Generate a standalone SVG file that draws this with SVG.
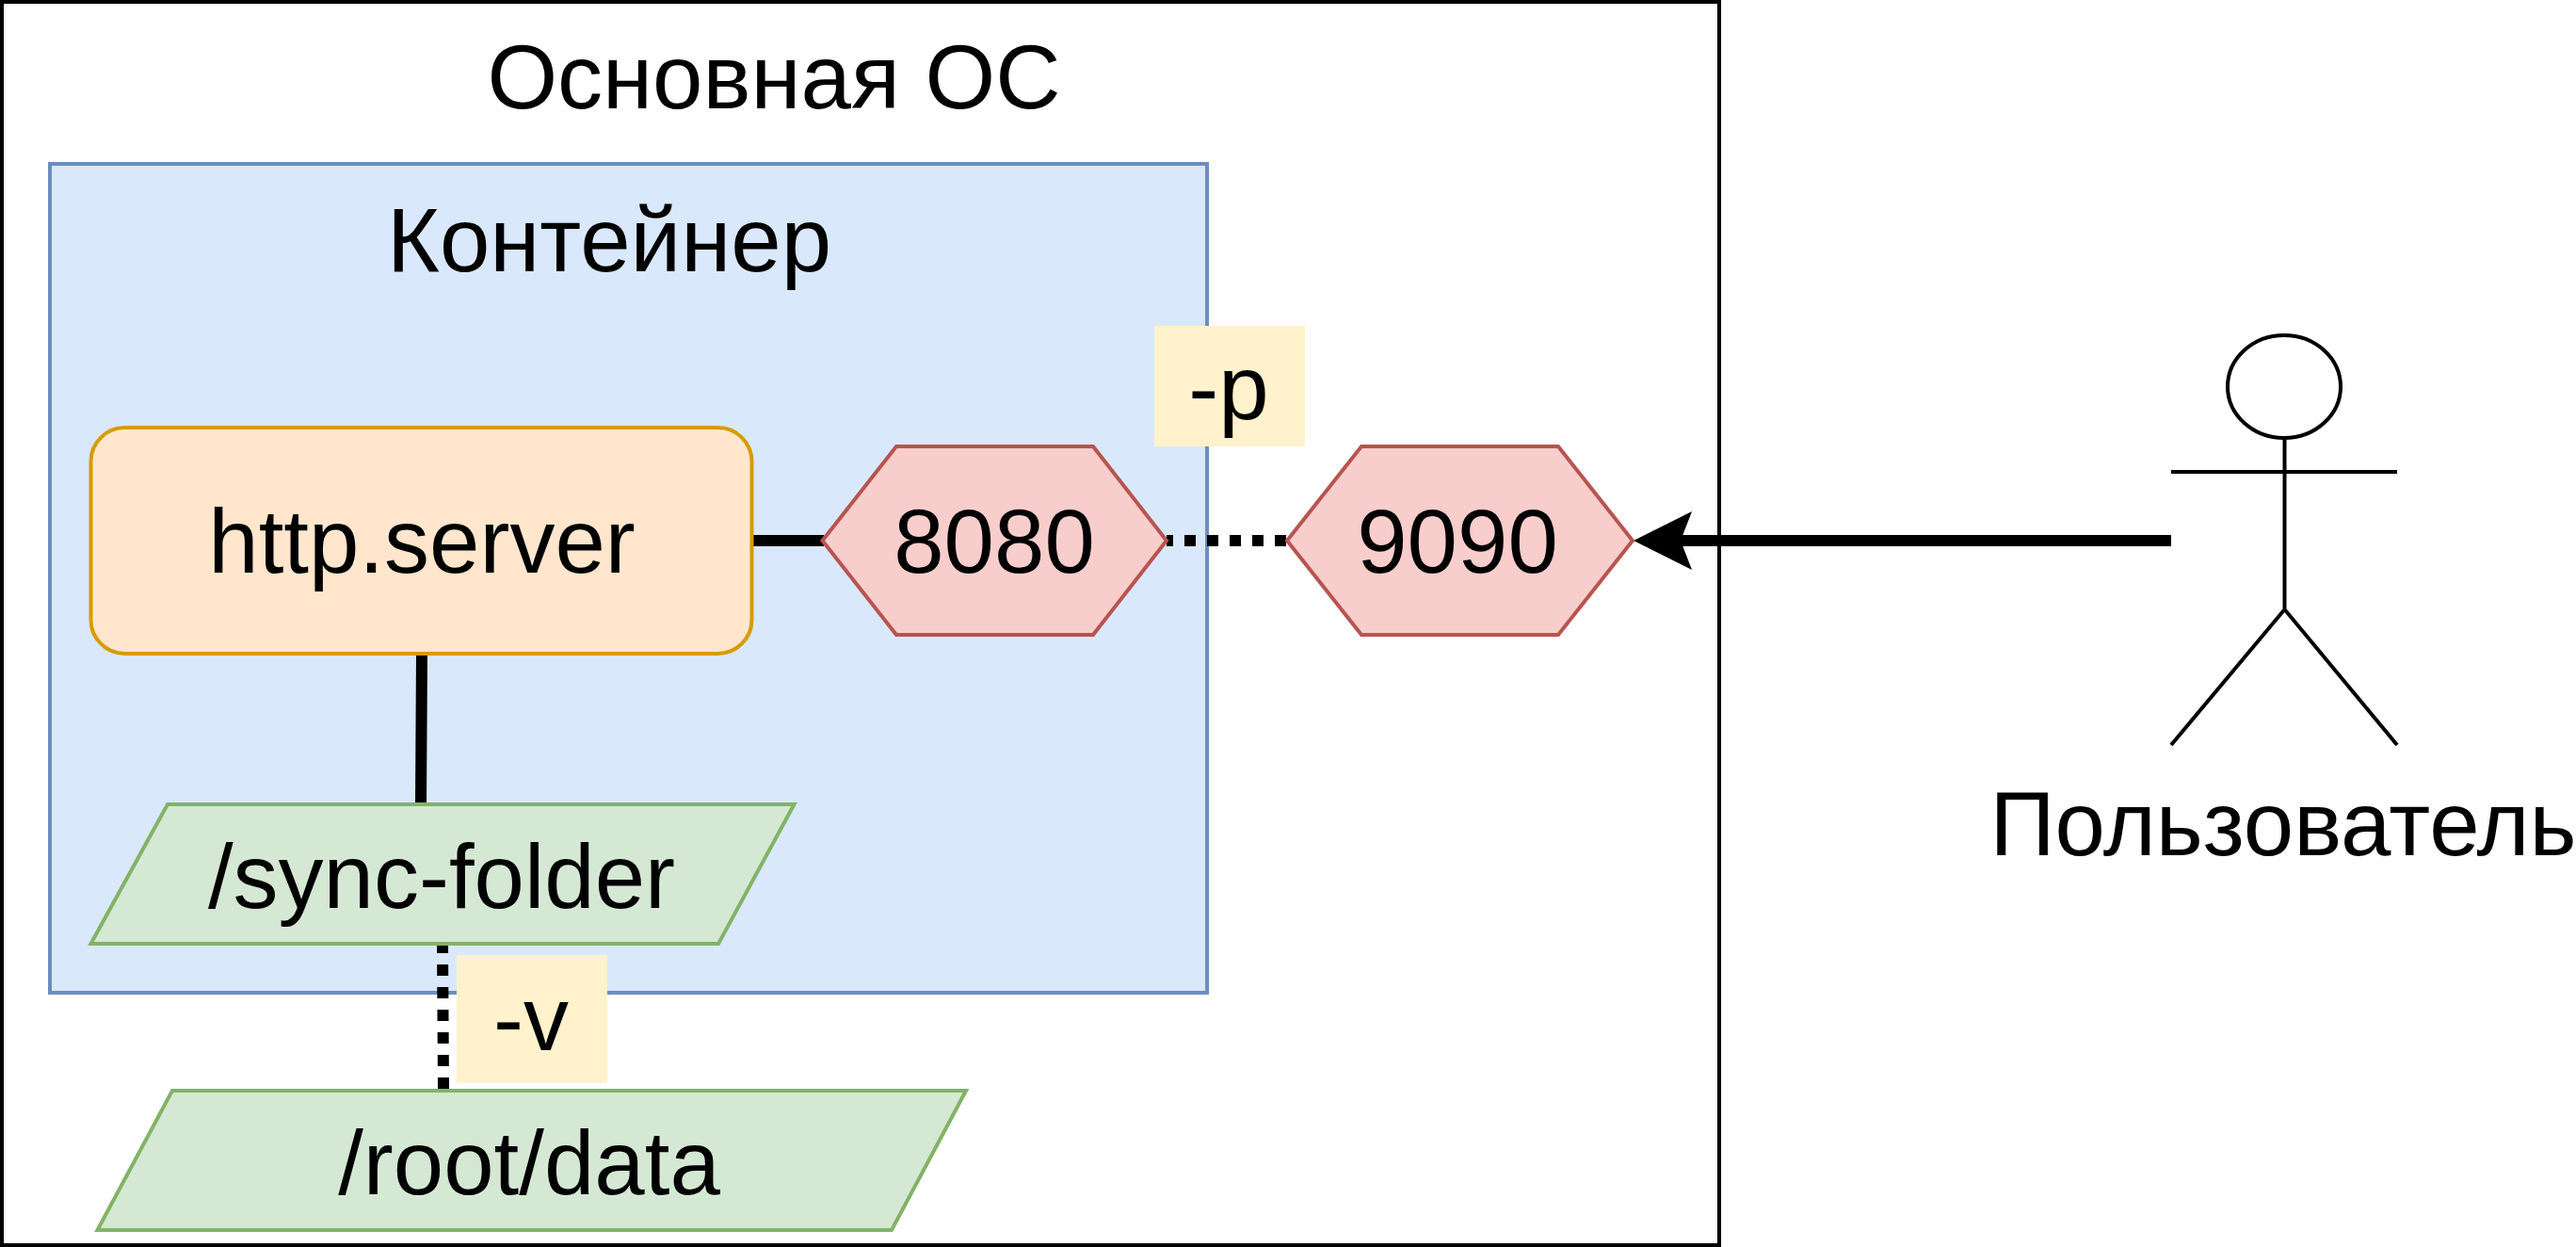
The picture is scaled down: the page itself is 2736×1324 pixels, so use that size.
<svg xmlns="http://www.w3.org/2000/svg" width="2736" height="1324" viewBox="0 0 2736 1324">
<style>
text{font-family:"Liberation Sans",Arial,sans-serif;font-size:96px;fill:#000;text-anchor:middle}
.r{fill:#f8cecc;stroke:#b85450;stroke-width:4}
.g{fill:#d5e8d4;stroke:#82b366;stroke-width:4}
.y{fill:#fff2cc;stroke:none}
.a{fill:none;stroke:#000;stroke-width:4}
.c{fill:none;stroke:#000;stroke-width:12}
.d{stroke-dasharray:12 12}
</style>
<rect width="2736" height="1324" fill="#fff"/>
<g id="host"><rect x="2" y="2" width="1824" height="1320" fill="#fff" stroke="#000" stroke-width="4"/><text x="822" y="115">Основная ОС</text></g>
<g id="container"><rect x="53" y="174" width="1229" height="880" fill="#dae8fc" stroke="#6c8ebf" stroke-width="4"/><text x="647" y="288">Контейнер</text></g>
<g id="label-p"><rect class="y" x="1226" y="346" width="160" height="128"/><text x="1305" y="445">-p</text></g>
<g id="label-v"><rect class="y" x="485" y="1014" width="160" height="136"/><text x="564" y="1115">-v</text></g>
<g id="connectors">
<path class="c" d="M798 574H875"/>
<path class="c" d="M448 694L447 854"/>
<path class="c d" d="M1366 574H1239"/>
<path class="c d" d="M471 1156L470 1002"/>
<path class="c" d="M2306 574H1780"/>
<path d="M1735 574L1797 543L1785 574L1797 605Z" fill="#000"/>
</g>
<g id="server"><rect x="96.5" y="454" width="702" height="240" rx="36" ry="36" fill="#ffe6cc" stroke="#d79b00" stroke-width="4"/><text x="448" y="608">http.server</text></g>
<g id="port8080"><polygon class="r" points="873.5,574 952,474 1161,474 1239,574 1161,674 952,674"/><text x="1056" y="608">8080</text></g>
<g id="port9090"><polygon class="r" points="1367,574 1446,474 1655,474 1734,574 1655,674 1446,674"/><text x="1548" y="608">9090</text></g>
<g id="sync"><polygon class="g" points="96.5,1002 178,854 843.5,854 763,1002"/><text x="469" y="964">/sync-folder</text></g>
<g id="root"><polygon class="g" points="103.5,1306 183,1158 1026,1158 947,1306"/><text x="562" y="1268">/root/data</text></g>
<g id="user"><ellipse class="a" cx="2426" cy="410.5" rx="60" ry="54.5"/><path class="a" d="M2426.5 465V647M2306 501H2546M2306 791L2426.5 647L2546 791"/><text x="2425" y="908">Пользователь</text></g>
</svg>
